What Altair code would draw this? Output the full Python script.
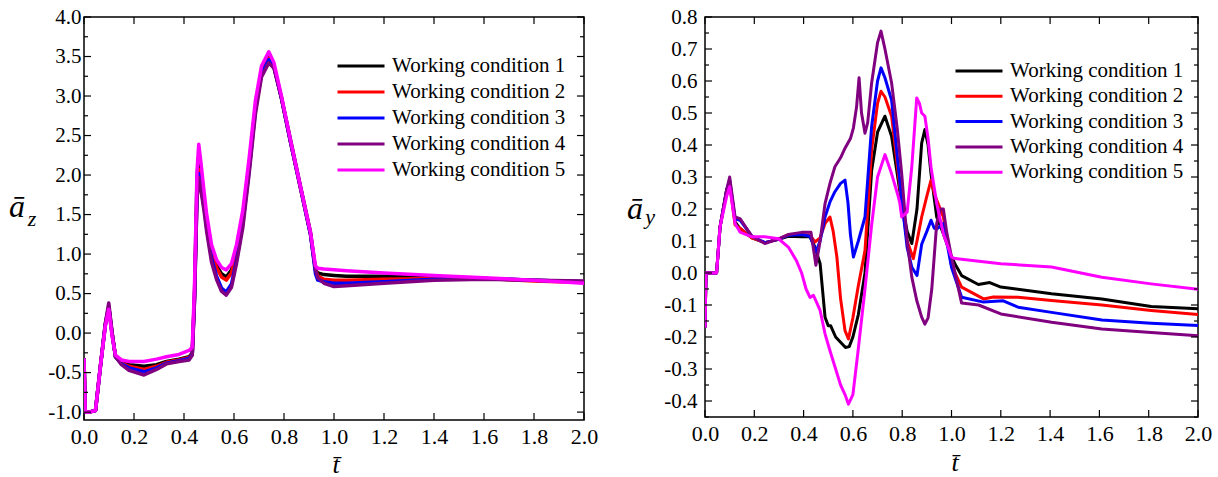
import altair as alt
import pandas as pd

FONT = "Liberation Serif"
COND = ["Working condition 1", "Working condition 2", "Working condition 3",
        "Working condition 4", "Working condition 5"]
COLORS = ["#000000", "#ff0000", "#0000ff", "#800080", "#ff00ff"]

# ---------------- left panel: a_z ----------------
T_LEFT = [0, 0.005, 0.02, 0.046, 0.066, 0.085, 0.099, 0.112, 0.126, 0.15, 0.18, 0.24, 0.29,
          0.33, 0.38, 0.42, 0.433, 0.442, 0.452, 0.459, 0.468, 0.48, 0.49, 0.51, 0.53, 0.55,
          0.569, 0.59, 0.61, 0.635, 0.66, 0.686, 0.71, 0.739, 0.76, 0.79, 0.826, 0.866, 0.906,
          0.926, 0.935, 0.96, 1.0, 1.05, 1.2, 1.4, 1.6, 1.8, 2.0]
AZ_WC1 = [-0.32, -1.0, -1.0, -0.98, -0.41, 0.10, 0.33, 0.0, -0.30, -0.37, -0.40, -0.42, -0.40,
          -0.36, -0.33, -0.30, -0.25, 0.5, 1.95, 2.25, 2.0, 1.7, 1.45, 1.05, 0.86, 0.75, 0.71,
          0.80, 1.05, 1.48, 2.12, 2.88, 3.32, 3.50, 3.38, 2.97, 2.42, 1.83, 1.25, 0.80, 0.76,
          0.74, 0.73, 0.72, 0.72, 0.70, 0.69, 0.67, 0.65]
AZ_WC2 = [-0.32, -1.0, -1.0, -0.98, -0.41, 0.10, 0.33, 0.0, -0.30, -0.38, -0.42, -0.46, -0.42,
          -0.37, -0.34, -0.31, -0.26, 0.45, 1.8, 2.07, 1.9, 1.65, 1.42, 1.02, 0.83, 0.71, 0.67,
          0.76, 1.02, 1.45, 2.1, 2.86, 3.30, 3.48, 3.37, 2.97, 2.42, 1.84, 1.26, 0.80, 0.72,
          0.68, 0.67, 0.67, 0.68, 0.69, 0.69, 0.66, 0.64]
AZ_WC3 = [-0.32, -1.0, -1.0, -0.98, -0.41, 0.10, 0.34, 0.0, -0.30, -0.39, -0.44, -0.49, -0.44,
          -0.38, -0.35, -0.32, -0.27, 0.42, 1.75, 2.02, 1.85, 1.6, 1.35, 0.95, 0.72, 0.57, 0.52,
          0.62, 0.92, 1.38, 2.05, 2.83, 3.28, 3.46, 3.36, 2.97, 2.42, 1.84, 1.25, 0.75, 0.67,
          0.65, 0.63, 0.63, 0.65, 0.68, 0.69, 0.67, 0.65]
AZ_WC4 = [-0.32, -1.0, -1.0, -0.98, -0.41, 0.12, 0.38, 0.02, -0.30, -0.40, -0.47, -0.53, -0.46,
          -0.39, -0.36, -0.34, -0.28, 0.4, 1.7, 1.97, 1.8, 1.55, 1.3, 0.9, 0.68, 0.53, 0.48,
          0.58, 0.88, 1.33, 2.0, 2.78, 3.24, 3.42, 3.35, 2.98, 2.45, 1.86, 1.28, 0.80, 0.70,
          0.63, 0.59, 0.60, 0.63, 0.67, 0.68, 0.67, 0.66]
AZ_WC5 = [-0.32, -1.0, -1.0, -0.98, -0.41, 0.08, 0.30, -0.03, -0.28, -0.34, -0.36, -0.36, -0.33,
          -0.30, -0.27, -0.22, -0.18, 0.6, 2.05, 2.39, 2.15, 1.8, 1.52, 1.12, 0.93, 0.83, 0.80,
          0.88, 1.12, 1.55, 2.2, 2.95, 3.38, 3.56, 3.42, 3.0, 2.44, 1.85, 1.27, 0.85, 0.82,
          0.81, 0.80, 0.79, 0.76, 0.73, 0.70, 0.67, 0.63]

# ---------------- right panel: a_y ----------------
T_AY1 = [0, 0.004, 0.047, 0.061, 0.088, 0.1, 0.122, 0.142, 0.19, 0.243, 0.298, 0.338, 0.392,
         0.426, 0.446, 0.467, 0.487, 0.50, 0.51, 0.53, 0.57, 0.585, 0.60, 0.622, 0.649, 0.676,
         0.70, 0.73, 0.757, 0.798, 0.82, 0.839, 0.86, 0.879, 0.892, 0.905, 0.917, 0.94, 0.967,
         1.0, 1.02, 1.041, 1.109, 1.155, 1.2, 1.406, 1.61, 1.81, 2.0]
AY_WC1 = [-0.17, 0.0, 0.0, 0.144, 0.26, 0.285, 0.16, 0.139, 0.11, 0.095, 0.105, 0.115, 0.113,
          0.113, 0.081, 0.029, -0.138, -0.165, -0.165, -0.20, -0.233, -0.23, -0.2, -0.13, 0.0,
          0.32, 0.44, 0.49, 0.427, 0.217, 0.13, 0.092, 0.20, 0.406, 0.448, 0.40, 0.31, 0.175,
          0.123, 0.05, 0.02, -0.008, -0.036, -0.03, -0.044, -0.065, -0.081, -0.105, -0.112]
T_AY2 = [0, 0.004, 0.047, 0.061, 0.088, 0.1, 0.122, 0.142, 0.19, 0.243, 0.298, 0.338, 0.392,
         0.426, 0.446, 0.467, 0.487, 0.507, 0.52, 0.535, 0.55, 0.568, 0.582, 0.60, 0.622, 0.649,
         0.676, 0.70, 0.714, 0.73, 0.757, 0.798, 0.82, 0.845, 0.86, 0.879, 0.90, 0.917, 0.93,
         0.94, 0.967, 1.0, 1.041, 1.13, 1.17, 1.27, 1.406, 1.61, 1.81, 2.0]
AY_WC2 = [-0.17, 0.0, 0.0, 0.144, 0.26, 0.28, 0.15, 0.14, 0.11, 0.095, 0.105, 0.12, 0.12,
          0.118, 0.097, 0.11, 0.155, 0.175, 0.13, 0.05, -0.08, -0.18, -0.206, -0.14, -0.04,
          0.07, 0.385, 0.53, 0.568, 0.55, 0.49, 0.22, 0.10, 0.045, 0.10, 0.175, 0.24, 0.29,
          0.25, 0.228, 0.175, 0.024, -0.044, -0.081, -0.075, -0.076, -0.086, -0.10, -0.117, -0.13]
T_AY3 = [0, 0.004, 0.047, 0.061, 0.088, 0.1, 0.122, 0.142, 0.19, 0.243, 0.298, 0.338, 0.392,
         0.426, 0.45, 0.467, 0.487, 0.507, 0.527, 0.55, 0.568, 0.58, 0.59, 0.602, 0.622, 0.649,
         0.676, 0.70, 0.714, 0.73, 0.757, 0.798, 0.82, 0.839, 0.86, 0.879, 0.90, 0.917, 0.93,
         0.94, 0.967, 1.0, 1.041, 1.13, 1.21, 1.27, 1.406, 1.61, 1.81, 2.0]
AY_WC3 = [-0.17, 0.0, 0.0, 0.144, 0.26, 0.29, 0.17, 0.165, 0.115, 0.095, 0.105, 0.118, 0.12,
          0.115, 0.066, 0.10, 0.175, 0.222, 0.254, 0.28, 0.29, 0.22, 0.12, 0.05, 0.10, 0.175,
          0.458, 0.60, 0.641, 0.61, 0.54, 0.228, 0.08, 0.018, -0.008, 0.09, 0.13, 0.165, 0.14,
          0.137, 0.155, 0.018, -0.076, -0.091, -0.087, -0.107, -0.123, -0.147, -0.157, -0.164]
T_AY4 = [0, 0.004, 0.047, 0.061, 0.088, 0.1, 0.122, 0.142, 0.19, 0.243, 0.298, 0.338, 0.392,
         0.43, 0.45, 0.467, 0.487, 0.507, 0.527, 0.55, 0.568, 0.59, 0.602, 0.615, 0.625, 0.635,
         0.649, 0.66, 0.676, 0.70, 0.714, 0.73, 0.757, 0.78, 0.798, 0.82, 0.839, 0.859, 0.879,
         0.892, 0.905, 0.92, 0.94, 0.955, 0.967, 0.98, 1.0, 1.02, 1.041, 1.11, 1.2, 1.406,
         1.61, 1.81, 2.0]
AY_WC4 = [-0.17, 0.0, 0.0, 0.144, 0.26, 0.30, 0.175, 0.17, 0.115, 0.092, 0.107, 0.12, 0.127,
          0.127, 0.024, 0.10, 0.217, 0.28, 0.332, 0.36, 0.39, 0.42, 0.453, 0.52, 0.61, 0.50,
          0.437, 0.47, 0.594, 0.72, 0.756, 0.70, 0.594, 0.45, 0.31, 0.10, -0.013, -0.086,
          -0.138, -0.16, -0.14, -0.05, 0.155, 0.20, 0.20, 0.13, 0.05, -0.02, -0.094, -0.10,
          -0.128, -0.154, -0.175, -0.186, -0.196]
T_AY5 = [0, 0.004, 0.047, 0.061, 0.088, 0.1, 0.122, 0.142, 0.19, 0.243, 0.298, 0.338, 0.37,
         0.392, 0.41, 0.426, 0.44, 0.446, 0.467, 0.487, 0.507, 0.53, 0.55, 0.568, 0.582, 0.60,
         0.62, 0.649, 0.676, 0.70, 0.73, 0.757, 0.78, 0.79, 0.798, 0.82, 0.839, 0.859, 0.87,
         0.879, 0.892, 0.905, 0.917, 0.94, 0.967, 1.0, 1.014, 1.2, 1.406, 1.61, 1.81, 2.0]
AY_WC5 = [-0.17, 0.0, 0.0, 0.144, 0.24, 0.27, 0.155, 0.128, 0.113, 0.113, 0.107, 0.081, 0.04,
          0.0, -0.05, -0.076, -0.07, -0.08, -0.117, -0.19, -0.243, -0.30, -0.35, -0.38, -0.41,
          -0.38, -0.25, -0.05, 0.15, 0.30, 0.37, 0.31, 0.25, 0.22, 0.175, 0.19, 0.332, 0.547,
          0.53, 0.50, 0.49, 0.42, 0.33, 0.217, 0.123, 0.05, 0.045, 0.029, 0.019, -0.013,
          -0.034, -0.051]

# ---------------- ticks ----------------
X_TICKS = [0.0, 0.2, 0.4, 0.6, 0.8, 1.0, 1.2, 1.4, 1.6, 1.8, 2.0]
AZ_TICKS = [-1.0, -0.5, 0.0, 0.5, 1.0, 1.5, 2.0, 2.5, 3.0, 3.5, 4.0]
AZ_MINOR = [-0.75, -0.25, 0.25, 0.75, 1.25, 1.75, 2.25, 2.75, 3.25, 3.75]
AY_TICKS = [-0.4, -0.3, -0.2, -0.1, 0.0, 0.1, 0.2, 0.3, 0.4, 0.5, 0.6, 0.7, 0.8]
AY_MINOR = [-0.45, -0.35, -0.25, -0.15, -0.05, 0.05, 0.15, 0.25, 0.35, 0.45, 0.55, 0.65, 0.75]

Y_TITLE_L = ["ā", "z"]
Y_TITLE_R = ["ā", "y"]
X_TITLE = "t\u0304"


def long_df(pairs):
    frames = []
    for name, (ts, vs) in zip(COND, pairs):
        assert len(ts) == len(vs), name
        frames.append(pd.DataFrame({"t": ts, "v": vs, "cond": name}))
    return pd.concat(frames, ignore_index=True)


left_df = long_df([(T_LEFT, AZ_WC1), (T_LEFT, AZ_WC2), (T_LEFT, AZ_WC3),
                   (T_LEFT, AZ_WC4), (T_LEFT, AZ_WC5)])
right_df = long_df([(T_AY1, AY_WC1), (T_AY2, AY_WC2), (T_AY3, AY_WC3),
                    (T_AY4, AY_WC4), (T_AY5, AY_WC5)])


def txt(s, x, y, size, style="italic"):
    return alt.Chart(pd.DataFrame({"s": [s]})).mark_text(
        font=FONT, fontSize=size, fontStyle=style, align="center",
        baseline="alphabetic", color="black"
    ).encode(x=alt.value(x), y=alt.value(y), text="s:N")


def panel(df, y_dom, y_ticks, y_minor, W, H, sw, lx, ly, row_pad, lab_pad, titles):
    xs = alt.Scale(domain=[0, 2], nice=False, zero=False)
    ys = alt.Scale(domain=y_dom, nice=False, zero=False)
    x_axis = alt.Axis(values=X_TICKS, format=".1f", title=None, ticks=False, grid=False,
                      labelFlush=False, labelPadding=6, domain=False, labels=True,
                      labelFont=FONT, labelFontSize=22, labelColor="black")
    y_axis = alt.Axis(values=y_ticks, format=".1f", title=None, ticks=False, grid=False,
                      labelFlush=False, labelPadding=lab_pad, domain=False, labels=True,
                      labelFont=FONT, labelFontSize=21, labelColor="black",
                      labelExpr="replace(datum.label, '\u2212', '-')")
    lines = alt.Chart(df).mark_line(strokeWidth=sw, strokeJoin="round", clip=True).encode(
        x=alt.X("t:Q", scale=xs, axis=x_axis),
        y=alt.Y("v:Q", scale=ys, axis=y_axis),
        color=alt.Color("cond:N", scale=alt.Scale(domain=COND, range=COLORS),
                        legend=alt.Legend(orient="none", legendX=lx, legendY=ly, title=None,
                                          symbolType="stroke", symbolSize=2209,
                                          symbolStrokeWidth=3, clipHeight=24,
                                          rowPadding=row_pad, labelOffset=6, labelFont=FONT,
                                          labelFontSize=21, labelColor="black", padding=0,
                                          labelLimit=400)),
    )

    def ytick(vals, x0, x1):
        return alt.Chart(pd.DataFrame({"v": vals})).mark_rule(color="black", strokeWidth=1.2).encode(
            y=alt.Y("v:Q", scale=ys, axis=y_axis), x=alt.value(x0), x2=alt.value(x1))

    def xtick(vals, y0, y1):
        return alt.Chart(pd.DataFrame({"t": vals})).mark_rule(color="black", strokeWidth=1.2).encode(
            x=alt.X("t:Q", scale=xs, axis=x_axis), y=alt.value(y0), y2=alt.value(y1))

    layers = [lines,
              ytick(y_ticks, 0, 7), ytick(y_minor, 0, 4),
              ytick(y_ticks, W, W - 7), ytick(y_minor, W, W - 4),
              xtick(X_TICKS, H, H - 7), xtick(X_TICKS, 0, 7)]
    layers += titles
    return alt.layer(*layers).properties(width=W, height=H)


left = panel(left_df, [-1.1, 4.0], AZ_TICKS, AZ_MINOR, 500, 403, 3.5, 252, 37, 2, 3,
             [txt(Y_TITLE_L[0], -67, 200, 32), txt(Y_TITLE_L[1], -52, 209, 22),
              txt(X_TITLE, 252, 456, 26)])
right = panel(right_df, [-0.45, 0.8], AY_TICKS, AY_MINOR, 493, 400, 3, 249, 42, 1.3, 8,
              [txt(Y_TITLE_R[0], -70, 202, 32), txt(Y_TITLE_R[1], -55, 207, 22),
               txt(X_TITLE, 250, 454, 26)])

chart = alt.hconcat(left, right, spacing=27).resolve_scale(color="independent").configure_view(
    stroke="black", strokeWidth=1.5
).properties(
    padding={"left": 8, "top": 5, "right": 0, "bottom": 0}, background="white"
)

chart.save("out.html", embed_options={"renderer": "svg", "actions": False})
